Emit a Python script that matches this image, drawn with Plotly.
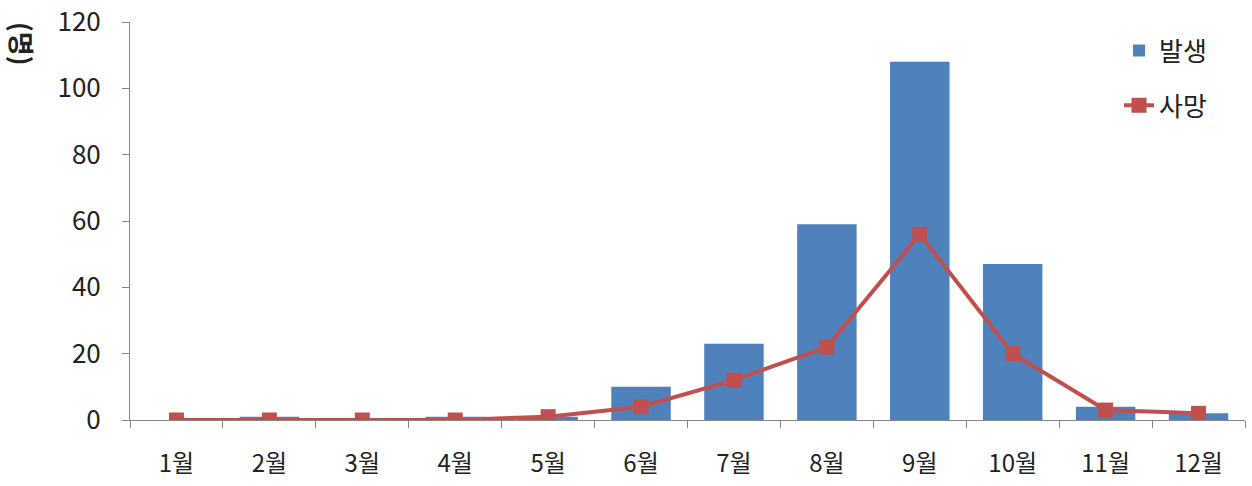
import plotly.graph_objects as go

months = ["1월", "2월", "3월", "4월", "5월", "6월", "7월", "8월", "9월", "10월", "11월", "12월"]
cases = [0, 1, 0, 1, 1, 10, 23, 59, 108, 47, 4, 2]
deaths = [0, 0, 0, 0, 1, 4, 12, 22, 56, 20, 3, 2]
y_ticks = [0, 20, 40, 60, 80, 100, 120]

KFONT = "Noto Sans CJK KR"

fig = go.Figure()
fig.add_trace(go.Bar(x=months, y=cases, name="발생", legendgroup="a",
                     marker=dict(color="#4F81BD", line=dict(width=0)), width=0.64))
fig.add_trace(go.Scatter(x=months, y=deaths, name="사망", mode="lines+markers", legendgroup="b",
                         line=dict(color="#C0504D", width=4),
                         marker=dict(symbol="square", size=15, color="#C0504D")))

fig.update_layout(
    autosize=True,
    margin=dict(l=130, r=7, t=22, b=66),
    plot_bgcolor="white", paper_bgcolor="white",
    font=dict(family=KFONT, size=24, color="#222"),
    showlegend=True,
    legend=dict(x=0.887, y=0.987, xanchor="left", yanchor="top", traceorder="grouped",
                font=dict(size=26, family=KFONT), bgcolor="rgba(0,0,0,0)", tracegroupgap=18),
)
fig.update_xaxes(type="category", range=[-0.5, len(months) - 0.5], automargin=False,
                 showline=True, linecolor="#868686", linewidth=1,
                 ticks="outside", tickson="boundaries", ticklen=7, tickcolor="#868686",
                 showgrid=False, zeroline=False, tickfont=dict(size=24), ticklabelstandoff=22)
fig.update_yaxes(range=[0, 120], tickvals=y_ticks, automargin=False,
                 showline=True, linecolor="#868686", linewidth=1,
                 ticks="outside", ticklen=7, tickcolor="#868686", showgrid=False, zeroline=False,
                 tickfont=dict(size=26), ticklabelstandoff=16)
fig.add_annotation(text="<b>(명)</b>", xref="paper", yref="paper", x=-0.097, y=0.945, xanchor="center", yanchor="middle",
                   textangle=90, showarrow=False, font=dict(size=26, family=KFONT, color="#222"))

post = ("document.documentElement.style.margin='0';document.body.style.margin='0';"
        "document.body.style.overflow='hidden';"
        "Plotly.Plots.resize(document.getElementById('{plot_id}'));")
fig.write_html("out.html", default_width="100vw", default_height="100vh",
               config={"displayModeBar": False}, post_script=post)
